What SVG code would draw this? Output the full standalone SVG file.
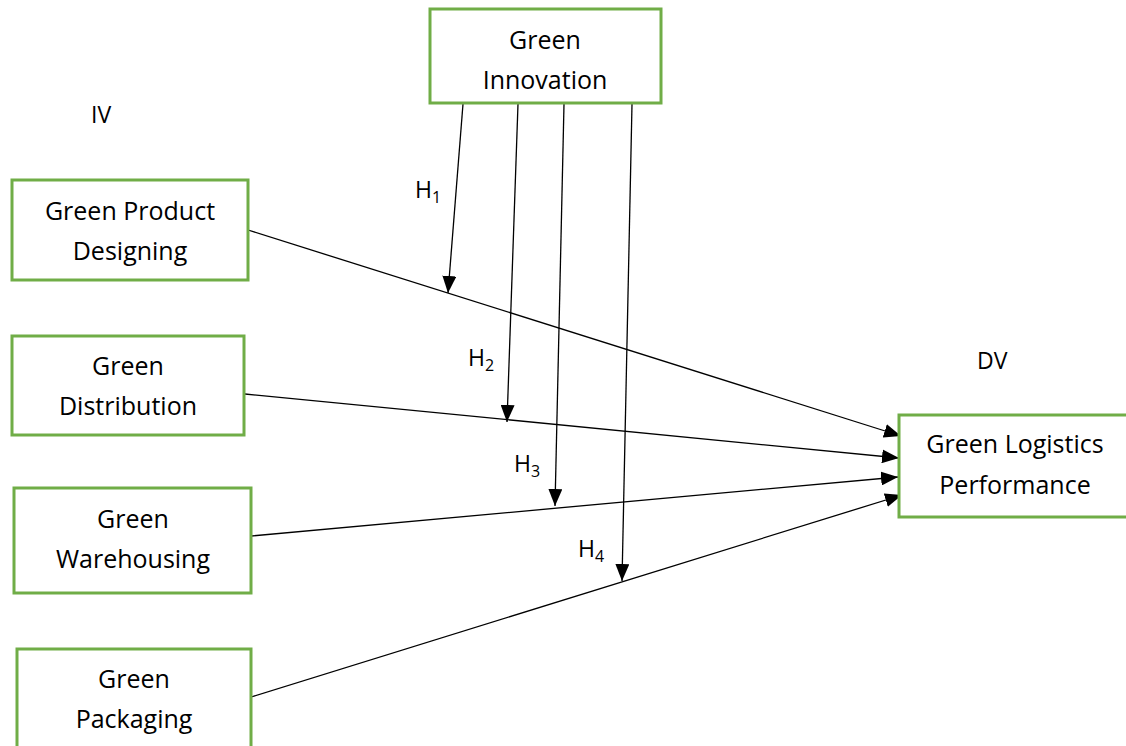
<svg xmlns="http://www.w3.org/2000/svg" width="1126" height="746" viewBox="0 0 1126 746">
<defs>
<style>
.box{fill:#fff;stroke:#70AD47;stroke-width:3}
.t{font-family:"Open Sans","Liberation Sans",sans-serif;font-size:25px;fill:#000;text-anchor:middle}
.l{font-family:"Open Sans","Liberation Sans",sans-serif;font-size:23px;fill:#000}
.sub{font-size:16px}
.c{stroke:#000;stroke-width:1.3;fill:none;marker-end:url(#ah)}
</style>
<marker id="ah" markerUnits="userSpaceOnUse" markerWidth="18" markerHeight="14" refX="17" refY="7" orient="auto">
<path d="M0,0 L17,7 L0,14 Z" fill="#000"/>
</marker>
</defs>
<rect width="1126" height="746" fill="#fff"/>
<g id="connectors">
<line class="c" x1="463" y1="104" x2="448" y2="293"/>
<line class="c" x1="518" y1="104" x2="507" y2="422"/>
<line class="c" x1="564" y1="104" x2="555" y2="506"/>
<line class="c" x1="632" y1="104" x2="622" y2="581"/>
<line class="c" x1="248" y1="230" x2="901" y2="436"/>
<line class="c" x1="245" y1="394" x2="899" y2="458"/>
<line class="c" x1="251" y1="536" x2="898" y2="477"/>
<line class="c" x1="251" y1="697" x2="902" y2="495"/>
</g>
<g id="labels">
<text class="l" x="91" y="123">IV</text>
<text class="l" x="977" y="369">DV</text>
<text class="l" x="415" y="198">H<tspan class="sub" dy="5">1</tspan></text>
<text class="l" x="468" y="366">H<tspan class="sub" dy="5">2</tspan></text>
<text class="l" x="514" y="472">H<tspan class="sub" dy="5">3</tspan></text>
<text class="l" x="578" y="557">H<tspan class="sub" dy="5">4</tspan></text>
</g>
<g id="green-innovation">
<rect class="box" x="430" y="9" width="231" height="94"/>
<text class="t" x="545" y="49">Green</text>
<text class="t" x="545" y="89">Innovation</text>
</g>
<g id="green-product-designing">
<rect class="box" x="12" y="180" width="236" height="100"/>
<text class="t" x="130" y="220">Green Product</text>
<text class="t" x="130" y="260">Designing</text>
</g>
<g id="green-distribution">
<rect class="box" x="12" y="336" width="232" height="99"/>
<text class="t" x="128" y="375">Green</text>
<text class="t" x="128" y="415">Distribution</text>
</g>
<g id="green-warehousing">
<rect class="box" x="14" y="488" width="237" height="105"/>
<text class="t" x="133" y="528">Green</text>
<text class="t" x="133" y="568">Warehousing</text>
</g>
<g id="green-packaging">
<rect class="box" x="17" y="649" width="234" height="110"/>
<text class="t" x="134" y="688">Green</text>
<text class="t" x="134" y="728">Packaging</text>
</g>
<g id="green-logistics-performance">
<rect class="box" x="899" y="415" width="240" height="102"/>
<text class="t" x="1015" y="453">Green Logistics</text>
<text class="t" x="1015" y="494">Performance</text>
</g>
</svg>
